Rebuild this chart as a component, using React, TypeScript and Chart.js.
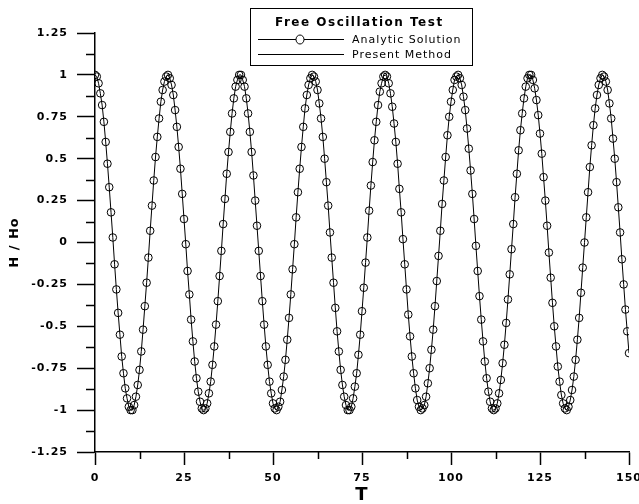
import { useEffect, useRef } from "react";
import { Chart, registerables } from "chart.js";

Chart.register(...registerables);

// Sampling of the time series (every half unit of T from 0 to 150)
const TIME_STEP = 0.5;

// Axis ranges and tick spacing
const T_RANGE = [0, 150];
const T_TICK = 25;
const H_RANGE = [-1.25, 1.25];
const H_TICK = 0.25;

const CHART_TITLE = "Free Oscillation Test";
const SERIES_NAMES = ["Analytic Solution", "Present Method"];
const X_TITLE = "T";
const Y_TITLE = "H / Ho";

// Normalised surface elevation H / Ho of the analytic solution
const analyticH = [
  1.0, 0.99, 0.95, 0.89, 0.82, 0.72, 0.6, 0.47, 0.33, 0.18, 0.03,
  -0.13, -0.28, -0.42, -0.55, -0.68, -0.78, -0.87, -0.93, -0.98, -1.0,
  -1.0, -0.97, -0.92, -0.85, -0.76, -0.65, -0.52, -0.38, -0.24, -0.09,
  0.07, 0.22, 0.37, 0.51, 0.63, 0.74, 0.84, 0.91, 0.96, 0.99,
  1.0, 0.98, 0.94, 0.88, 0.79, 0.69, 0.57, 0.44, 0.29, 0.14,
  -0.01, -0.17, -0.31, -0.46, -0.59, -0.71, -0.81, -0.89, -0.95, -0.99,
  -1.0, -0.99, -0.96, -0.9, -0.83, -0.73, -0.62, -0.49, -0.35, -0.2,
  -0.05, 0.11, 0.26, 0.41, 0.54, 0.66, 0.77, 0.86, 0.93, 0.97,
  1.0, 1.0, 0.97, 0.93, 0.86, 0.77, 0.66, 0.54, 0.4, 0.25,
  0.1, -0.05, -0.2, -0.35, -0.49, -0.62, -0.73, -0.83, -0.9, -0.96,
  -0.99, -1.0, -0.98, -0.95, -0.88, -0.8, -0.7, -0.58, -0.45, -0.31,
  -0.16, -0.01, 0.15, 0.3, 0.44, 0.57, 0.69, 0.8, 0.88, 0.94,
  0.98, 1.0, 0.99, 0.96, 0.91, 0.83, 0.74, 0.63, 0.5, 0.36,
  0.22, 0.06, -0.09, -0.24, -0.39, -0.53, -0.65, -0.76, -0.85, -0.92,
  -0.97, -1.0, -1.0, -0.98, -0.93, -0.86, -0.78, -0.67, -0.55, -0.41,
  -0.27, -0.12, 0.03, 0.19, 0.34, 0.48, 0.61, 0.72, 0.82, 0.9,
  0.95, 0.99, 1.0, 0.99, 0.95, 0.89, 0.81, 0.71, 0.6, 0.47,
  0.32, 0.18, 0.02, -0.13, -0.28, -0.43, -0.56, -0.68, -0.78, -0.87,
  -0.94, -0.98, -1.0, -0.99, -0.97, -0.92, -0.84, -0.75, -0.64, -0.52,
  -0.38, -0.23, -0.08, 0.07, 0.23, 0.37, 0.51, 0.64, 0.75, 0.84,
  0.91, 0.97, 0.99, 1.0, 0.98, 0.94, 0.87, 0.79, 0.68, 0.56,
  0.43, 0.29, 0.14, -0.02, -0.17, -0.32, -0.46, -0.59, -0.71, -0.81,
  -0.89, -0.95, -0.99, -1.0, -0.99, -0.96, -0.9, -0.82, -0.72, -0.61,
  -0.48, -0.34, -0.19, -0.04, 0.11, 0.27, 0.41, 0.55, 0.67, 0.77,
  0.86, 0.93, 0.98, 1.0, 1.0, 0.97, 0.92, 0.85, 0.76, 0.65,
  0.53, 0.39, 0.25, 0.1, -0.06, -0.21, -0.36, -0.5, -0.62, -0.74,
  -0.83, -0.91, -0.96, -0.99, -1.0, -0.98, -0.94, -0.88, -0.8, -0.7,
  -0.58, -0.45, -0.3, -0.15, 0.0, 0.15, 0.3, 0.45, 0.58, 0.7,
  0.8, 0.88, 0.94, 0.98, 1.0, 0.99, 0.96, 0.91, 0.83, 0.74,
  0.62, 0.5, 0.36, 0.21, 0.06, -0.1, -0.25, -0.4, -0.53, -0.66,
];

// The numerical result lies on the analytic curve at plotting precision
const presentMethodH = analyticH.slice();

const FONT = "'DejaVu Sans', 'Liberation Sans', Arial, sans-serif";
const INK = "#000";

const toPoints = (values: number[]) =>
  values.map((h, i) => ({ x: i * TIME_STEP, y: h }));

const fmt = (v: number) => String(Math.round(v * 100) / 100);

// White page, slightly tracked lettering, half-step ticks and the boxed key
const decorations = {
  id: "decorations",
  beforeDraw(chart: any) {
    const { ctx, width, height } = chart;
    ctx.save();
    ctx.fillStyle = "#fff";
    ctx.fillRect(0, 0, width, height);
    ctx.restore();
    // wider tracking for the axis lettering drawn by the scales
    ctx.letterSpacing = "1px";
  },
  afterDraw(chart: any) {
    const { ctx, chartArea } = chart;
    const xs = chart.scales.x;
    const ys = chart.scales.y;
    ctx.save();
    ctx.strokeStyle = INK;
    ctx.lineWidth = 1.5;
    ctx.beginPath();
    for (let i = 0; i < ys.ticks.length - 1; i++) {
      const mid = (ys.ticks[i].value + ys.ticks[i + 1].value) / 2;
      const py = Math.round(ys.getPixelForValue(mid)) + 0.5;
      ctx.moveTo(chartArea.left - 9, py);
      ctx.lineTo(chartArea.left, py);
    }
    for (let i = 0; i < xs.ticks.length - 1; i++) {
      const mid = (xs.ticks[i].value + xs.ticks[i + 1].value) / 2;
      const px = Math.round(xs.getPixelForValue(mid)) + 0.5;
      ctx.moveTo(px, chartArea.bottom);
      ctx.lineTo(px, chartArea.bottom + 7);
    }
    ctx.stroke();

    // key box
    const bx = 250, by = 8, bw = 222, bh = 57;
    ctx.lineWidth = 1;
    ctx.strokeRect(bx + 0.5, by + 0.5, bw, bh);
    ctx.fillStyle = INK;
    ctx.textBaseline = "middle";
    ctx.textAlign = "left";
    ctx.font = `bold 12px ${FONT}`;
    ctx.letterSpacing = "1.5px";
    ctx.fillText(CHART_TITLE, 275, 23);

    const rows = [39, 54];
    const ds = chart.data.datasets;
    ctx.font = `11px ${FONT}`;
    ctx.letterSpacing = "1px";
    rows.forEach((ry: number, i: number) => {
      ctx.beginPath();
      ctx.lineWidth = 1;
      ctx.moveTo(258, ry + 0.5);
      ctx.lineTo(344, ry + 0.5);
      ctx.stroke();
      if (i === 0) {
        ctx.beginPath();
        ctx.fillStyle = "#fff";
        ctx.ellipse(300, ry + 0.5, 4, 4.5, 0, 0, Math.PI * 2);
        ctx.fill();
        ctx.stroke();
        ctx.fillStyle = INK;
      }
      ctx.fillText(ds[i].label, 352, ry + 1);
    });
    ctx.restore();
  },
};

export default function App() {
  const canvasRef = useRef<HTMLCanvasElement | null>(null);

  useEffect(() => {
    const canvas = canvasRef.current;
    if (!canvas) return;
    const chart = new Chart(canvas, {
      type: "line",
      data: {
        datasets: [
          {
            label: SERIES_NAMES[0],
            data: toPoints(analyticH),
            borderColor: INK,
            borderWidth: 1,
            pointRadius: 3.8,
            pointBorderWidth: 1,
            pointBorderColor: INK,
            pointBackgroundColor: "rgba(255,255,255,0)",
            showLine: false,
          },
          {
            label: SERIES_NAMES[1],
            data: toPoints(presentMethodH),
            borderColor: INK,
            borderWidth: 1,
            pointRadius: 0,
          },
        ],
      },
      options: {
        responsive: false,
        animation: false,
        devicePixelRatio: 1,
        layout: { padding: { top: 33, right: 10, bottom: 0, left: 0 } },
        plugins: {
          legend: { display: false },
          tooltip: { enabled: false },
        },
        scales: {
          x: {
            type: "linear",
            min: T_RANGE[0],
            max: T_RANGE[1],
            border: { display: true, color: INK, width: 1.5 },
            grid: {
              drawOnChartArea: false,
              drawTicks: true,
              tickLength: 13,
              tickColor: INK,
              tickWidth: 1.5,
            },
            ticks: {
              stepSize: T_TICK,
              padding: 7,
              color: INK,
              font: { family: FONT, size: 11, weight: "bold" },
              maxRotation: 0,
              callback: (v: any) => fmt(Number(v)),
            },
            title: {
              display: true,
              text: X_TITLE,
              color: INK,
              font: { family: FONT, size: 18, weight: "bold", lineHeight: 1 },
              padding: { top: 0, bottom: 0 },
            },
            afterFit: (s: any) => {
              s.height = 52;
              s.paddingLeft = 0;
              s.paddingRight = 0;
            },
          },
          y: {
            type: "linear",
            min: H_RANGE[0],
            max: H_RANGE[1],
            border: { display: true, color: INK, width: 1.5 },
            grid: {
              drawOnChartArea: false,
              drawTicks: true,
              tickLength: 18,
              tickColor: INK,
              tickWidth: 1.5,
            },
            ticks: {
              stepSize: H_TICK,
              padding: 9,
              color: INK,
              font: { family: FONT, size: 11, weight: "bold" },
              callback: (v: any) => fmt(Number(v)),
            },
            title: {
              display: true,
              text: Y_TITLE,
              color: INK,
              font: { family: FONT, size: 13, weight: "bold", lineHeight: 1.2 },
              padding: { top: 7, bottom: 0 },
            },
            afterFit: (s: any) => {
              s.width = 95;
              s.paddingTop = 0;
              s.paddingBottom = 0;
            },
          },
        },
      },
      plugins: [decorations],
    });
    return () => chart.destroy();
  }, []);

  return (
    <div style={{ position: "fixed", left: 0, top: 0, width: 639, height: 504, background: "#fff" }}>
      <canvas ref={canvasRef} width={639} height={504} style={{ display: "block" }} />
    </div>
  );
}
